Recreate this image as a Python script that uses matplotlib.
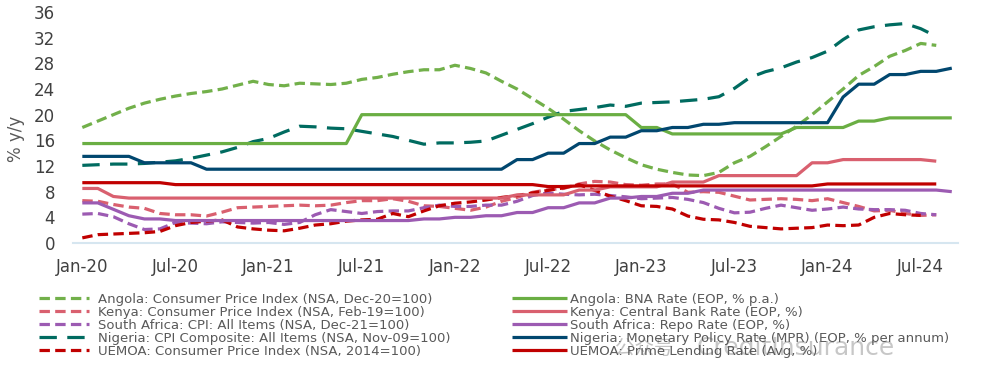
import numpy as np
import matplotlib.pyplot as plt

nan = np.nan

# monthly, Jan-20 .. Sep-24
tick_labels = ["Jan-20", "Jul-20", "Jan-21", "Jul-21", "Jan-22",
               "Jul-22", "Jan-23", "Jul-23", "Jan-24", "Jul-24"]

angola_cpi = [18.0, 19.0, 20.0, 21.0, 21.8, 22.4, 22.9, 23.3, 23.6, 24.0, 24.6, 25.2,
              24.7, 24.5, 24.9, 24.8, 24.7, 24.9, 25.5, 25.8, 26.3, 26.7, 27.0, 27.0,
              27.7, 27.2, 26.5, 25.2, 24.0, 22.5, 21.0, 19.3, 17.5, 15.9, 14.5, 13.3,
              12.2, 11.5, 11.0, 10.6, 10.5, 11.0, 12.5, 13.5, 15.0, 16.6, 18.2, 20.0,
              22.0, 24.0, 26.1, 27.5, 29.1, 30.0, 31.1, 30.8, nan]
kenya_cpi = [6.6, 6.5, 6.0, 5.6, 5.4, 4.6, 4.4, 4.4, 4.2, 4.8, 5.5, 5.6,
             5.7, 5.8, 5.9, 5.8, 5.9, 6.3, 6.6, 6.6, 6.9, 6.5, 5.8, 5.7,
             5.4, 5.1, 5.6, 6.5, 7.1, 7.9, 8.3, 8.5, 9.2, 9.6, 9.5, 9.1,
             9.0, 9.2, 9.2, 7.9, 8.0, 7.9, 7.3, 6.7, 6.8, 6.9, 6.8, 6.6,
             6.9, 6.3, 5.7, 5.0, 5.1, 4.6, 4.3, 4.4, nan]
sa_cpi = [4.5, 4.6, 4.1, 3.0, 2.1, 2.2, 3.2, 3.1, 3.0, 3.3, 3.2, 3.1,
          3.2, 2.9, 3.2, 4.4, 5.2, 4.9, 4.6, 4.9, 5.0, 5.0, 5.5, 5.9,
          5.7, 5.7, 5.9, 5.9, 6.5, 7.4, 7.8, 7.6, 7.5, 7.6, 7.4, 7.2,
          6.9, 7.0, 7.1, 6.8, 6.3, 5.4, 4.7, 4.8, 5.4, 5.9, 5.5, 5.1,
          5.3, 5.6, 5.3, 5.2, 5.2, 5.1, 4.6, 4.4, nan]
nigeria_cpi = [12.1, 12.2, 12.3, 12.3, 12.4, 12.6, 12.8, 13.2, 13.7, 14.2, 14.9, 15.8,
               16.3, 17.3, 18.2, 18.1, 17.9, 17.8, 17.4, 17.0, 16.6, 16.0, 15.4, 15.6,
               15.6, 15.7, 15.9, 16.8, 17.7, 18.6, 19.6, 20.5, 20.8, 21.1, 21.5, 21.3,
               21.8, 21.9, 22.0, 22.2, 22.4, 22.8, 24.1, 25.8, 26.7, 27.3, 28.2, 28.9,
               29.9, 31.7, 33.2, 33.7, 34.0, 34.2, 33.4, 32.2, nan]
uemoa_cpi = [0.8, 1.3, 1.4, 1.5, 1.6, 1.8, 2.7, 3.2, 3.4, 3.6, 2.5, 2.2,
             2.0, 1.9, 2.3, 2.8, 3.0, 3.4, 3.6, 3.7, 4.6, 4.1, 5.0, 5.8,
             6.2, 6.4, 6.7, 7.1, 7.4, 7.8, 8.2, 8.6, 9.1, 8.2, 7.3, 6.6,
             5.8, 5.7, 5.3, 4.2, 3.7, 3.6, 3.2, 2.6, 2.4, 2.2, 2.3, 2.4,
             2.8, 2.7, 2.8, 4.0, 4.6, 4.4, 4.3, nan, nan]

angola_rate = [15.5] * 18 + [20.0] * 18 + [18.0] * 2 + [17.0] * 8 + [18.0] * 4 \
    + [19.0] * 2 + [19.5] * 5
kenya_rate = [8.5, 8.5, 7.25] + [7.0] * 25 + [7.5] * 4 + [8.25] * 2 + [8.75] * 4 \
    + [9.5] * 3 + [10.5] * 6 + [12.5] * 2 + [13.0] * 6 + [12.75, nan]
sa_rate = [6.25, 6.25, 5.25, 4.25, 3.75, 3.75] + [3.5] * 16 + [3.75, 3.75, 4.0, 4.0,
    4.25, 4.25, 4.75, 4.75, 5.5, 5.5, 6.25, 6.25, 7.0, 7.0, 7.25, 7.25, 7.75, 7.75] \
    + [8.25] * 16 + [8.0]
nigeria_rate = [13.5] * 4 + [12.5] * 4 + [11.5] * 20 + [13, 13, 14, 14, 15.5, 15.5,
    16.5, 16.5, 17.5, 17.5, 18, 18, 18.5, 18.5] + [18.75] * 7 \
    + [22.75, 24.75, 24.75, 26.25, 26.25, 26.75, 26.75, 27.25]
uemoa_rate = [9.4] * 6 + [9.1] * 24 + [8.8] * 2 + [8.9] * 16 + [9.2] * 8 + [nan]

cpi_labels = ["Angola: Consumer Price Index (NSA, Dec-20=100)",
              "Kenya: Consumer Price Index (NSA, Feb-19=100)",
              "South Africa: CPI: All Items (NSA, Dec-21=100)",
              "Nigeria: CPI Composite: All Items (NSA, Nov-09=100)",
              "UEMOA: Consumer Price Index (NSA, 2014=100)"]
rate_labels = ["Angola: BNA Rate (EOP, % p.a.)",
               "Kenya: Central Bank Rate (EOP, %)",
               "South Africa: Repo Rate (EOP, %)",
               "Nigeria: Monetary Policy Rate (MPR) (EOP, % per annum)",
               "UEMOA: Prime Lending Rate (Avg, %)"]

cpi_colors = ["#72B04A", "#D9606F", "#9C5BB2", "#006B60", "#C00000"]
rate_colors = ["#6AAE43", "#D9606F", "#9C5BB2", "#01476F", "#C00000"]

plt.rcParams['lines.scale_dashes'] = False
plt.rcParams['font.family'] = ['DejaVu Sans', 'Noto Sans CJK SC']

fig = plt.figure(figsize=(9.91, 3.86), dpi=100)
ax = fig.add_axes([73 / 991, 1 - 243 / 386, 885 / 991, 231 / 386])

x = np.arange(len(angola_rate))
short_dash = (0, (7.5, 3.8))
long_dash = (0, (12.5, 7.5))
lw = 2.3

cpi_series = [angola_cpi, kenya_cpi, sa_cpi, nigeria_cpi, uemoa_cpi]
rate_series = [angola_rate, kenya_rate, sa_rate, nigeria_rate, uemoa_rate]

cpi_handles = []
for i, (vals, col, lab) in enumerate(zip(cpi_series, cpi_colors, cpi_labels)):
    ls = long_dash if i == 3 else short_dash
    ln, = ax.plot(x, vals, color=col, lw=lw, linestyle=ls, label=lab)
    cpi_handles.append(ln)

rate_handles = []
for vals, col, lab in zip(rate_series, rate_colors, rate_labels):
    ln, = ax.plot(x, vals, color=col, lw=lw, solid_capstyle='butt', label=lab)
    rate_handles.append(ln)

ax.set_xlim(-0.6, 56.4)
ax.set_ylim(0, 36)
ax.set_yticks(np.arange(0, 37, 4))
ax.set_xticks(np.arange(0, 55, 6))
ax.set_xticklabels(tick_labels)
ax.tick_params(axis='both', length=0, labelsize=12, labelcolor='#404040')
ax.tick_params(axis='x', pad=11)
ax.tick_params(axis='y', pad=13)
for s in ['top', 'right', 'left']:
    ax.spines[s].set_visible(False)
ax.spines['bottom'].set_color('#D6E6F0')
ax.spines['bottom'].set_linewidth(1.5)

ax.set_ylabel("% y/y", fontsize=12, color='#595959')
ax.yaxis.set_label_coords(-0.054, 0.45)

leg_kw = dict(loc='upper left', frameon=False, fontsize=9.5, borderpad=0,
              borderaxespad=0, labelspacing=0.0, labelcolor='#595959')
leg1 = fig.legend(handles=cpi_handles, bbox_to_anchor=(39 / 991, 1 - 293 / 386),
                  handlelength=3.8, handletextpad=0.68, **leg_kw)
leg2 = fig.legend(handles=rate_handles, bbox_to_anchor=(512 / 991, 1 - 293 / 386),
                  handlelength=4.15, handletextpad=0.24, **leg_kw)

# faint watermark
fig.text(615 / 991, 1 - 348 / 386, "公众号", fontsize=14, color='#9a9a9a',
         alpha=0.6, va='center', family=['Noto Sans CJK SC', 'DejaVu Sans'])
fig.text(697 / 991, 1 - 348 / 386, "CreditInsurance", fontsize=18, color='#9a9a9a',
         alpha=0.55, va='center')

fig.savefig("out.png", dpi=100)
